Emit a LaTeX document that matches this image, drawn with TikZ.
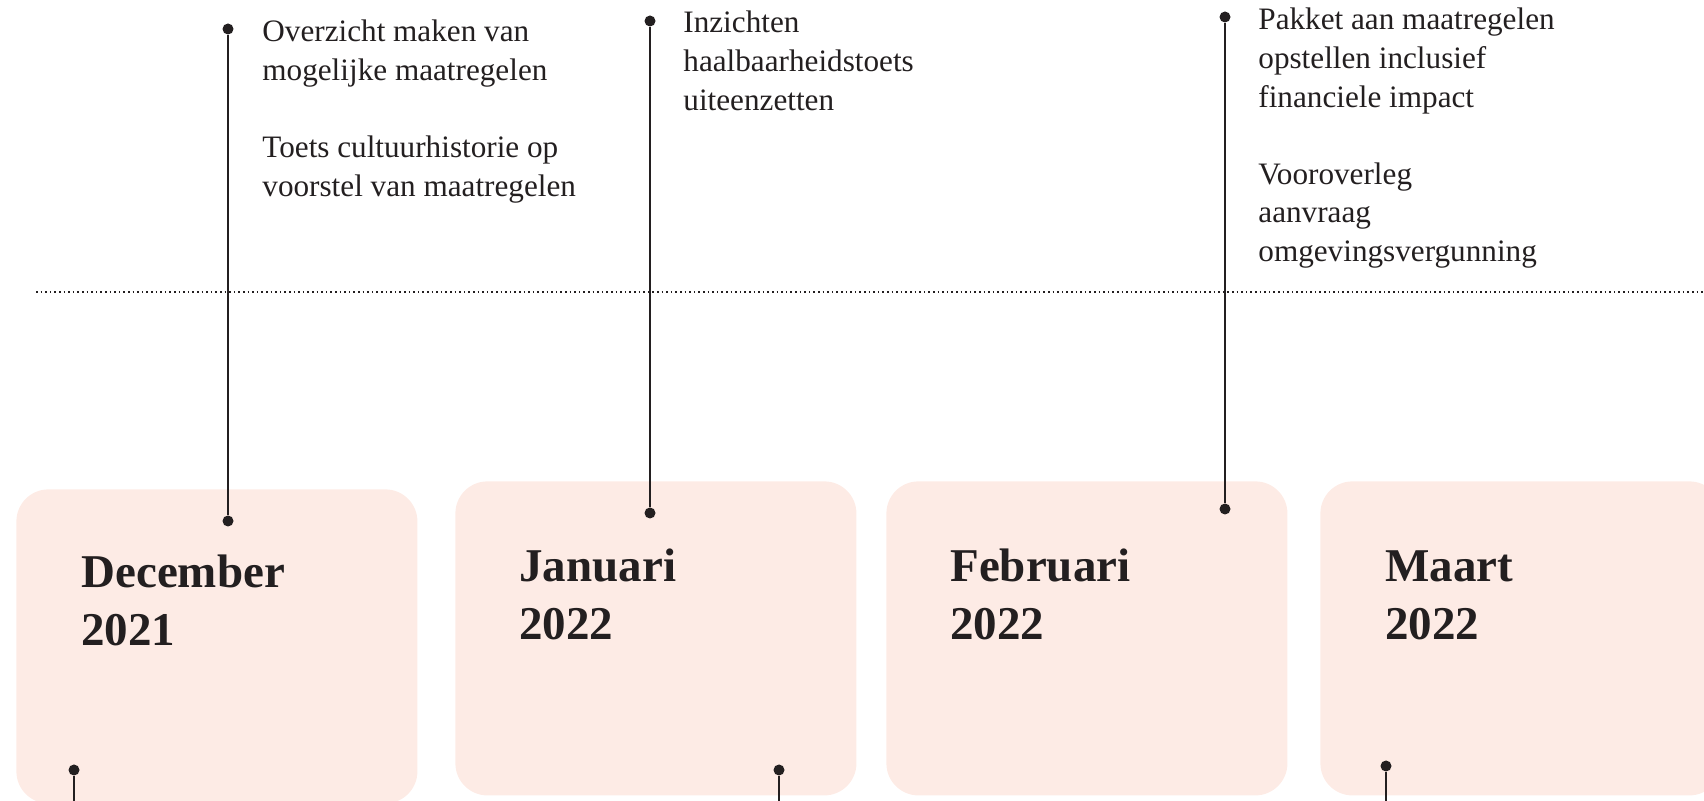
\documentclass[tikz,border=0pt]{standalone}
\usepackage{fontspec}
\setmainfont{Liberation Serif}
\usetikzlibrary{positioning}

\definecolor{boxpink}{RGB}{253,235,229}
\definecolor{ink}{RGB}{35,31,32}

\newcommand{\toplines}[1]{\begin{tabular}[t]{@{}l@{}}#1\end{tabular}}

\tikzset{
  monthbox/.style={fill=boxpink, rounded corners=16pt, anchor=north west,
    minimum width=200.5pt, minimum height=157pt, inner sep=0pt},
  monthlabel/.style={anchor=base west, inner sep=0pt, text=ink,
    font=\fontsize{23.5}{28.75}\selectfont\bfseries},
  note/.style={anchor=base west, inner sep=0pt, text=ink,
    font=\fontsize{15.6}{19.3}\selectfont},
  pin/.style={circle, fill=ink, inner sep=0pt, minimum size=5.5pt},
  stem/.style={draw=ink, line width=1.3pt},
  dotline/.style={draw=ink, line width=1pt, dash pattern=on 0.8pt off 1.5pt}
}

\begin{document}
\begin{tikzpicture}[x=0.5pt,y=-0.5pt]
  \useasboundingbox (0,0) rectangle (1704,801);

  \node[monthbox] (dec) at (16,489) {};
  \node[monthbox] (jan) at (455,481) {};
  \node[monthbox] (feb) at (886,481) {};
  \node[monthbox] (maa) at (1320,481) {};

  \node[monthlabel] (decl) at ([shift={(65,99)}]dec.north west) {\toplines{December\\2021}};
  \node[monthlabel] (janl) at ([shift={(64,101)}]jan.north west) {\toplines{Januari\\2022}};
  \node[monthlabel] (febl) at ([shift={(64,101)}]feb.north west) {\toplines{Februari\\2022}};
  \node[monthlabel] (maal) at ([shift={(65,101)}]maa.north west) {\toplines{Maart\\2022}};

  \coordinate (hl) at (36,292);
  \coordinate (hr) at (1704,292);
  \draw[dotline] (hl) -- (hr);

  \node[pin] (s1t) at (228,29) {};
  \node[pin] (s1b) at (228,521) {};
  \node[pin] (s2t) at (650,21) {};
  \node[pin] (s2b) at (650,513) {};
  \node[pin] (s3t) at (1225,17) {};
  \node[pin] (s3b) at (1225,509) {};
  \draw[stem] (s1t) -- (s1b);
  \draw[stem] (s2t) -- (s2b);
  \draw[stem] (s3t) -- (s3b);

  \node[pin] (u1) at (74,770) {};
  \node[pin] (u2) at (779,770) {};
  \node[pin] (u3) at (1386,766) {};
  \coordinate (u1e) at (74,801);
  \coordinate (u2e) at (779,801);
  \coordinate (u3e) at (1386,801);
  \draw[stem] (u1) -- (u1e);
  \draw[stem] (u2) -- (u2e);
  \draw[stem] (u3) -- (u3e);

  \node[note] (n1) at ([shift={(34,13)}]s1t) {\toplines{Overzicht maken van\\mogelijke maatregelen\\[19.3pt]Toets cultuurhistorie op\\voorstel van maatregelen}};
  \node[note] (n2) at ([shift={(33,12)}]s2t) {\toplines{Inzichten\\haalbaarheidstoets\\uiteenzetten}};
  \node[note] (n3) at ([shift={(33,13)}]s3t) {\toplines{Pakket aan maatregelen\\opstellen inclusief\\financiele impact\\[19.3pt]Vooroverleg\\aanvraag\\omgevingsvergunning}};
\end{tikzpicture}
\end{document}
